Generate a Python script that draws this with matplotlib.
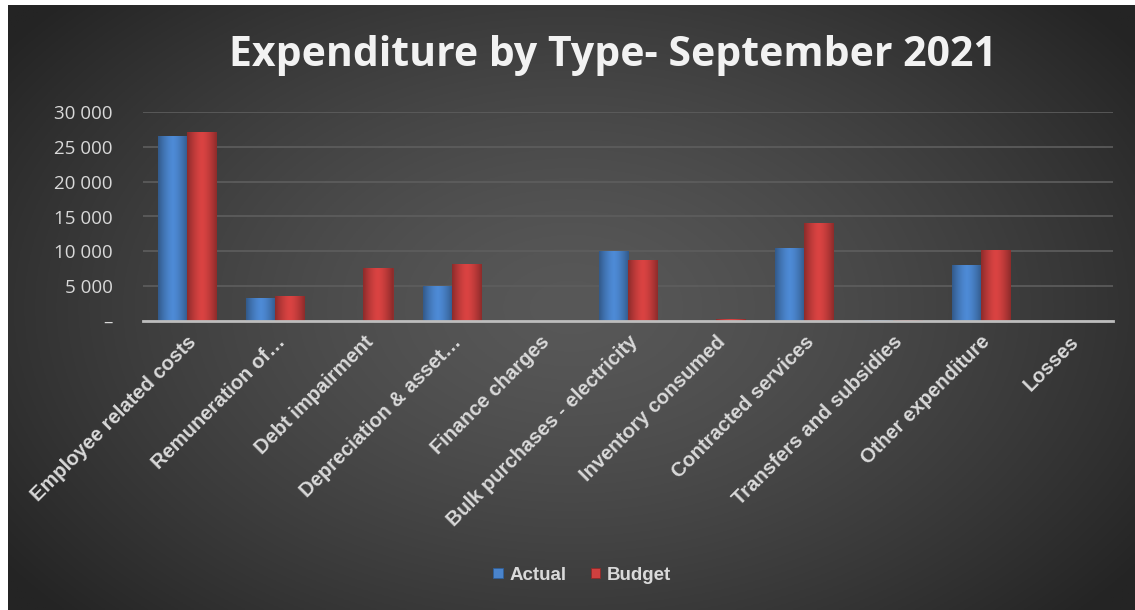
import numpy as np
import matplotlib
matplotlib.use('Agg')
import matplotlib.pyplot as plt
import matplotlib.colors as mcolors

# ── data ──────────────────────────────────────────────────────────────────────
categories = ['Employee related costs', 'Remuneration of…', 'Debt impairment',
              'Depreciation & asset…', 'Finance charges', 'Bulk purchases - electricity',
              'Inventory consumed', 'Contracted services', 'Transfers and subsidies',
              'Other expenditure', 'Losses']
actual = [26600, 3300, 0, 5000, 0, 10000, 0, 10500, 150, 8100, 0]
budget = [27100, 3600, 7650, 8200, 0, 8750, 350, 14100, 150, 10200, 0]
y_ticks = [0, 5000, 10000, 15000, 20000, 25000, 30000]
y_tick_labels = ['–', '5 000', '10 000', '15 000', '20 000', '25 000', '30 000']

BLUE = '#4a84cc'
RED = '#d0403f'
TEXT = '#d9d9d9'

W, H = 1135, 610
fig = plt.figure(figsize=(W / 100, H / 100), dpi=100)
fig.patch.set_facecolor('white')

# ── radial dark background ───────────────────────────────────────────────────
bg = fig.add_axes([8 / W, 0, 1 - 8 / W, 1 - 5 / H])
gy, gx = np.mgrid[0:1:300j, 0:1:560j]
d = np.sqrt(((gx - 0.5) / 0.62) ** 2 + ((gy - 0.5) / 0.75) ** 2)
d = np.clip(d, 0, 1)
c0, c1 = 0x58 / 255, 0x24 / 255
img = c0 + (c1 - c0) * d ** 1.4
bg.imshow(np.dstack([img, img, img]), aspect='auto', extent=[0, 1, 0, 1])
bg.set_axis_off()

# ── main axes ────────────────────────────────────────────────────────────────
ax = fig.add_axes([143 / W, 1 - 321 / H, (1113 - 143) / W, (321 - 112) / H])
ax.set_facecolor('none')
x = np.arange(len(categories))
bw = 0.33
bars_a = ax.bar(x - bw / 2, actual, width=bw, color=BLUE, edgecolor='#2f5f9a',
                linewidth=0.6, label='Actual', zorder=3)
bars_b = ax.bar(x + bw / 2, budget, width=bw, color=RED, edgecolor='#8f2a29',
                linewidth=0.6, label='Budget', zorder=3)

# soft cylinder-like shading on each bar
prof = 1 - 0.35 * np.abs(np.linspace(-1, 1, 40)) ** 1.5
for bars, col in [(bars_a, BLUE), (bars_b, RED)]:
    rgb = np.array(mcolors.to_rgb(col))
    shade = np.clip(prof[None, :, None] * rgb[None, None, :] * 1.05, 0, 1)
    for b in bars:
        if b.get_height() <= 0:
            continue
        x0, w, h = b.get_x(), b.get_width(), b.get_height()
        im = ax.imshow(shade, aspect='auto', extent=[x0, x0 + w, 0, h], zorder=3.5,
                       interpolation='bilinear')
        im.set_clip_path(b)

ax.set_xlim(-0.5, len(categories) - 0.5)
ax.set_ylim(0, 30000)
ax.set_yticks(y_ticks)
ax.set_yticklabels(y_tick_labels, fontsize=13.5, color=TEXT, family='Open Sans')
ax.yaxis.grid(True, color='#5e5e5e', linewidth=1.2, zorder=0)
ax.set_axisbelow(True)
ax.tick_params(axis='y', length=0, pad=22)
ax.tick_params(axis='x', length=0, pad=8)
for s in ['top', 'right', 'left']:
    ax.spines[s].set_visible(False)
ax.spines['bottom'].set_color('#bdbdbd')
ax.spines['bottom'].set_linewidth(2)
ax.spines['bottom'].set_zorder(4)

ax.set_xticks(x)
ax.set_xticklabels(categories, rotation=45, ha='right', va='top',
                   rotation_mode='anchor', fontsize=14.5, color=TEXT,
                   family='Liberation Sans')
for lbl in ax.get_xticklabels():
    lbl.set_fontweight('bold')

fig.text(613 / W, 1 - 55 / H, 'Expenditure by Type- September 2021',
         ha='center', va='center', fontsize=29.5, fontweight='bold',
         color='#f2f2f2', family='Open Sans')

leg = fig.legend(loc='center', bbox_to_anchor=(582 / W, 1 - 575 / H), ncol=2,
                 frameon=False, handlelength=0.5, handleheight=0.5,
                 handletextpad=0.35, columnspacing=1.3,
                 prop={'family': 'Liberation Sans', 'weight': 'bold', 'size': 13.5})
for t in leg.get_texts():
    t.set_color(TEXT)

fig.savefig('out.png', dpi=100, facecolor='white')
